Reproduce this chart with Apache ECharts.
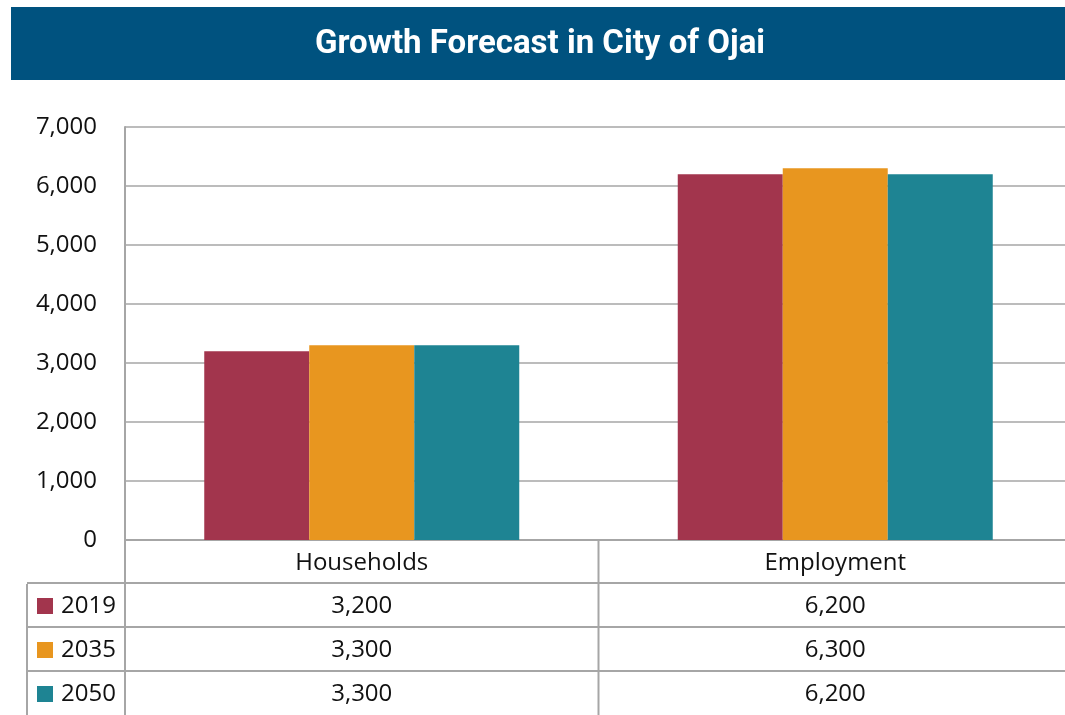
<!DOCTYPE html>
<html>
<head>
<meta charset="utf-8">
<script src="https://cdn.jsdelivr.net/npm/echarts@6.0.0/dist/echarts.min.js"></script>
<style>
  html, body { margin: 0; padding: 0; background: #fff; }
  #chart { width: 1065px; height: 715px; }
</style>
</head>
<body>
<div id="chart"></div>
<script>
// data
const categories = ['Households', 'Employment']
const years = ['2019', '2035', '2050']
const values2019 = [3200, 6200]
const values2035 = [3300, 6300]
const values2050 = [3300, 6200]
const colors = ['#a2354d', '#e8961f', '#1e8493']

const seriesValues = [values2019, values2035, values2050]

// layout
const gridLeft = 125
const gridTop = 127
const axisY = 540
const rowH = 44
const tableLeft = 27
const gridRight = -7 // right edge runs past the picture
const gridW = 1065 - gridLeft - gridRight
const lineColor = '#a6a6a6'
const font = '"Open Sans", "Noto Sans", sans-serif'

var myChart = echarts.init(document.getElementById('chart'))

const fmt = (v) => v.toLocaleString('en-US')

// banner, table lines + text
var graphics = []
graphics.push({
  type: 'rect',
  shape: { x: 11, y: 7, width: 1054, height: 73 },
  style: { fill: '#00527f' },
})
graphics.push({
  type: 'text',
  x: 540,
  y: 45,
  style: {
    text: 'Growth Forecast in City of Ojai',
    fill: '#fff',
    font: 'bold 33px Roboto, sans-serif',
    textAlign: 'center',
    textVerticalAlign: 'middle',
  },
})
const hLine = (x1, x2, y) => ({
  type: 'line',
  shape: { x1: x1, y1: y, x2: x2, y2: y },
  style: { stroke: lineColor, lineWidth: 2 },
  z: 10,
})
const vLine = (x, y1, y2) => ({
  type: 'line',
  shape: { x1: x, y1: y1, x2: x, y2: y2 },
  style: { stroke: lineColor, lineWidth: 2 },
  z: 10,
})
const catW = gridW / categories.length
graphics.push(vLine(gridLeft, axisY, 715))
graphics.push(vLine(tableLeft, axisY + rowH, 715))
for (let c = 1; c < categories.length; c++) {
  graphics.push(vLine(gridLeft + catW * c, axisY, 715))
}
for (let r = 1; r <= years.length; r++) {
  graphics.push(hLine(tableLeft, 1065, axisY + rowH * r - 1))
}
categories.forEach((name, c) => {
  graphics.push({
    type: 'text',
    x: gridLeft + catW * (c + 0.5),
    y: axisY + rowH / 2 + 1,
    style: { text: name, fill: '#111', font: '24px ' + font, textAlign: 'center', textVerticalAlign: 'middle' },
  })
})
years.forEach((yr, r) => {
  const cy = axisY + rowH * (r + 1.5)
  graphics.push({
    type: 'rect',
    shape: { x: 37, y: cy - 8, width: 16, height: 16 },
    style: { fill: colors[r] },
  })
  graphics.push({
    type: 'text',
    x: 61,
    y: cy,
    style: { text: yr, fill: '#111', font: '24px ' + font, textVerticalAlign: 'middle' },
  })
  seriesValues[r].forEach((v, c) => {
    graphics.push({
      type: 'text',
      x: gridLeft + catW * (c + 0.5),
      y: cy,
      style: { text: fmt(v), fill: '#111', font: '24px ' + font, textAlign: 'center', textVerticalAlign: 'middle' },
    })
  })
})

var option = {
  animation: false,
  backgroundColor: '#fff',
  grid: {
    left: gridLeft,
    top: gridTop,
    right: gridRight,
    bottom: 715 - axisY,
    outerBoundsMode: 'none',
  },
  xAxis: {
    type: 'category',
    data: categories,
    axisLine: { show: true, lineStyle: { color: lineColor, width: 2 } },
    axisTick: { show: false },
    axisLabel: { show: false },
  },
  yAxis: {
    type: 'value',
    min: 0,
    max: 7000,
    interval: 1000,
    axisLine: { show: true, lineStyle: { color: lineColor, width: 2 } },
    axisTick: { show: false },
    splitLine: { lineStyle: { color: lineColor, width: 1.5 } },
    axisLabel: {
      margin: 28,
      color: '#111',
      fontSize: 24,
      fontFamily: font,
      formatter: (v) => fmt(v),
    },
  },
  series: years.map((yr, i) => ({
    name: yr,
    type: 'bar',
    data: seriesValues[i],
    barWidth: 105,
    barGap: '0%',
    itemStyle: { color: colors[i] },
  })),
  graphic: graphics,
}

option && myChart.setOption(option)
</script>
</body>
</html>
